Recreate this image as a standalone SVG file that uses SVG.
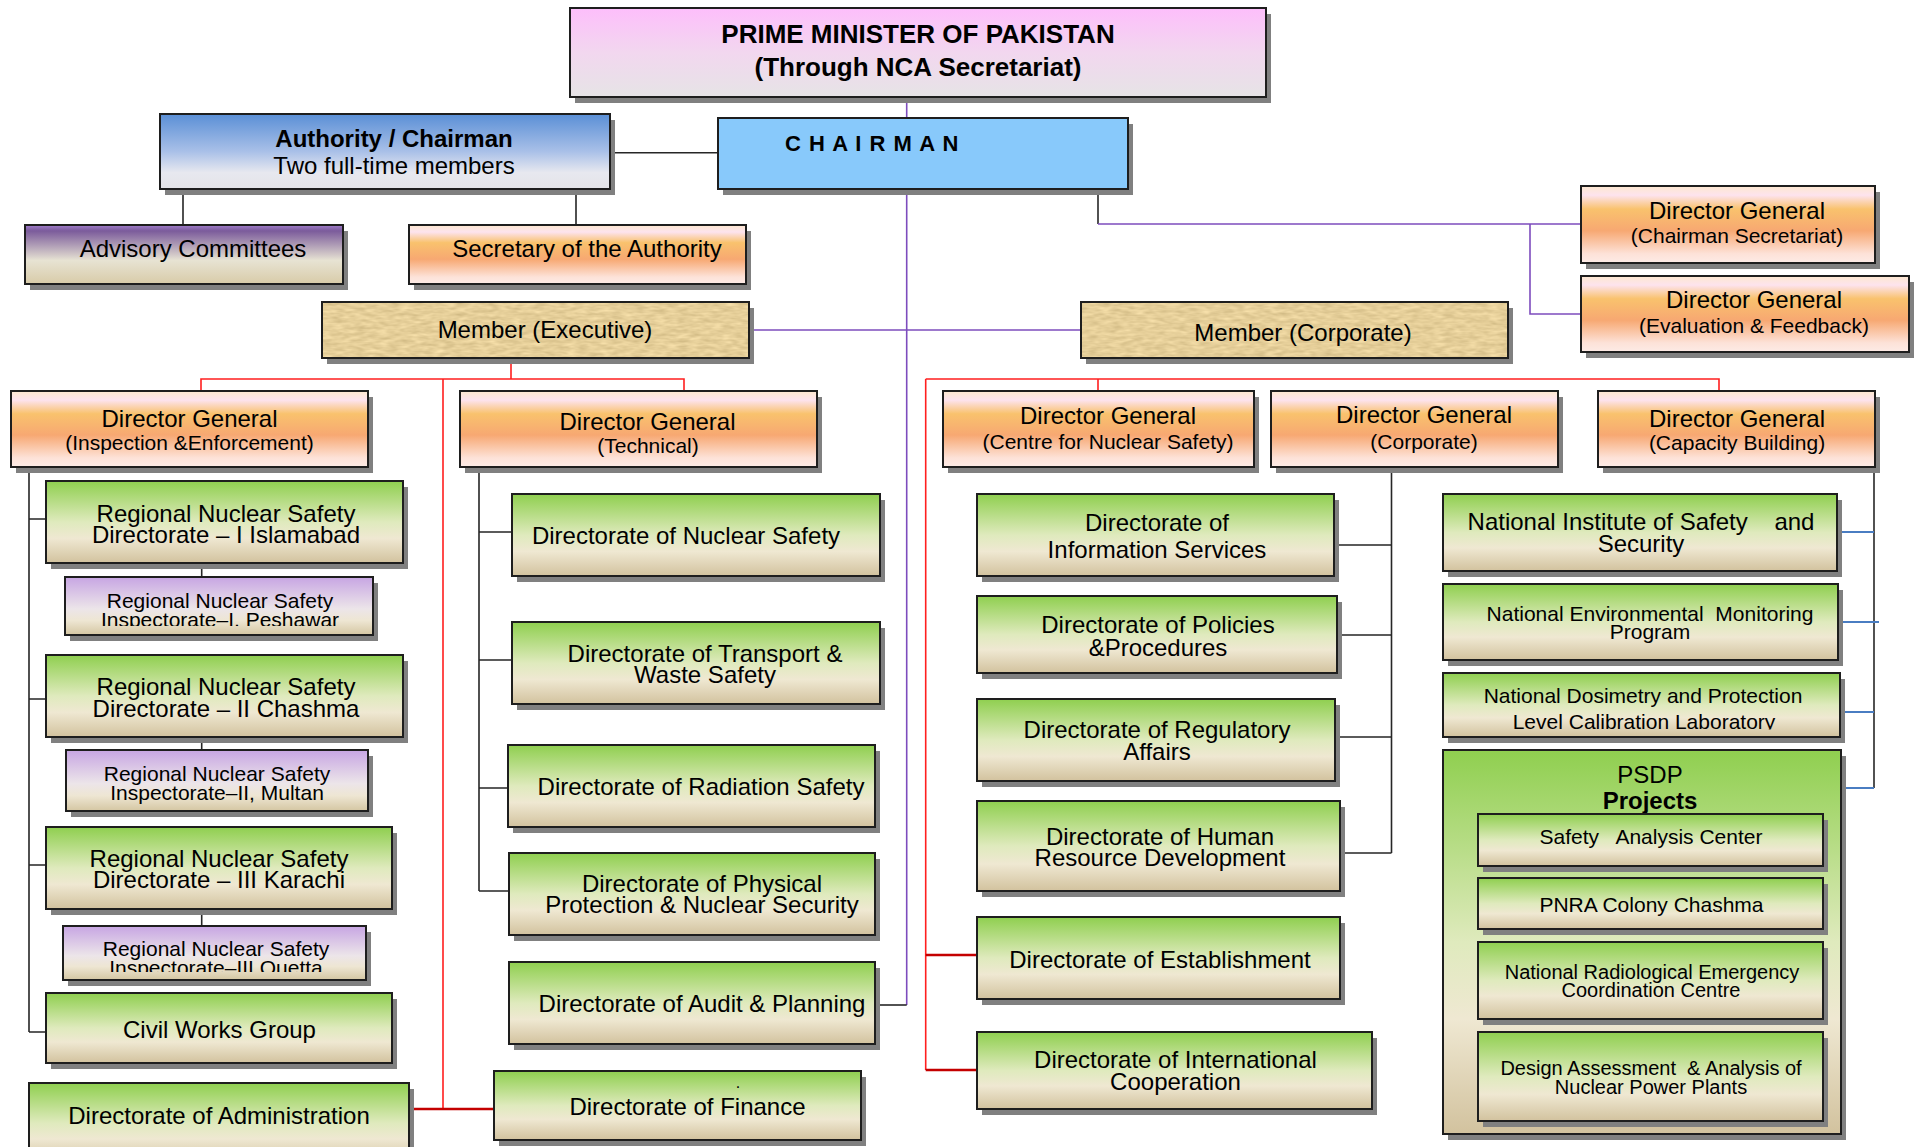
<svg xmlns="http://www.w3.org/2000/svg" width="1922" height="1147" viewBox="0 0 1922 1147">
<defs>
<style>
.bx{stroke:#1e1e1e;stroke-width:2}
.sh{fill:#808080}
.t{font-family:"Liberation Sans",Arial,sans-serif;fill:#000;text-anchor:middle}
.f26{font-size:26px;font-weight:bold}
.f24{font-size:24px}
.f22{font-size:22px}
.f21{font-size:21px}
.f20{font-size:20px}
.b{font-weight:bold}
.ln{fill:none;stroke-width:1.6}
.blk{stroke:#262626}
.pur{stroke:#7d4cbd}
.red{stroke:#ff1f1f}
.dred{stroke:#c40000;stroke-width:2.6}
.blu{stroke:#4a7dc2;stroke-width:2}
.green{fill:url(#gGreen)}
.orange{fill:url(#gOrange)}
.purp{fill:url(#gPurple)}
</style>
<linearGradient id="gGreen" x1="0" y1="0" x2="0" y2="1">
<stop offset="0" stop-color="#8fcf4f"/>
<stop offset="0.5" stop-color="#dfeabd"/>
<stop offset="0.7" stop-color="#efe8d2"/>
<stop offset="1" stop-color="#d2c29e"/>
</linearGradient>
<linearGradient id="gOrange" x1="0" y1="0" x2="0" y2="1">
<stop offset="0" stop-color="#fde8cf"/>
<stop offset="0.12" stop-color="#fde3ee"/>
<stop offset="0.3" stop-color="#f9c26d"/>
<stop offset="0.58" stop-color="#f7a872"/>
<stop offset="0.88" stop-color="#fde2d8"/>
<stop offset="1" stop-color="#fdebe6"/>
</linearGradient>
<linearGradient id="gPurple" x1="0" y1="0" x2="0" y2="1">
<stop offset="0" stop-color="#c7a5e3"/>
<stop offset="0.55" stop-color="#ece5e9"/>
<stop offset="0.75" stop-color="#eee6d3"/>
<stop offset="1" stop-color="#d4c6a2"/>
</linearGradient>
<linearGradient id="gAdv" x1="0" y1="0" x2="0" y2="1">
<stop offset="0" stop-color="#a27fcd"/>
<stop offset="0.1" stop-color="#7b5b9b"/>
<stop offset="0.6" stop-color="#e7e3d3"/>
<stop offset="1" stop-color="#d8cba8"/>
</linearGradient>
<linearGradient id="gAuth" x1="0" y1="0" x2="0" y2="1">
<stop offset="0" stop-color="#5a8fd6"/>
<stop offset="0.5" stop-color="#a9c0e8"/>
<stop offset="0.78" stop-color="#e7e8ef"/>
<stop offset="1" stop-color="#e4e4e8"/>
</linearGradient>
<linearGradient id="gPM" x1="0" y1="0" x2="0" y2="1">
<stop offset="0" stop-color="#fdbefb"/>
<stop offset="0.5" stop-color="#f2d7ef"/>
<stop offset="1" stop-color="#e6e4e6"/>
</linearGradient>
<filter id="parch" x="0" y="0" width="1" height="1" color-interpolation-filters="sRGB">
<feTurbulence type="fractalNoise" baseFrequency="0.09 0.3" numOctaves="2" seed="7" result="n"/>
<feColorMatrix in="n" type="matrix" values="0.2 0 0 0 0.8  0.2 0 0 0 0.71  0.2 0 0 0 0.5  0 0 0 0 1"/>
</filter>
<clipPath id="cPesh"><rect x="60" y="570" width="320" height="56"/></clipPath>
<clipPath id="cQuet"><rect x="60" y="920" width="320" height="52"/></clipPath>
<clipPath id="cLab"><rect x="1440" y="670" width="400" height="59.5"/></clipPath>
</defs>

<rect x="0" y="0" width="1922" height="1147" fill="#ffffff"/>

<g id="connectors">
<path class="ln pur" d="M906.7,97 V118 M906.7,188 V1005"/>
<path class="ln blk" d="M875,1005 H906.7"/>
<path class="ln blk" d="M610,152.7 H718"/>
<path class="ln blk" d="M183,189 V225 M576,189 V225"/>
<path class="ln blk" d="M1098,188 V224"/>
<path class="ln pur" d="M1098,224 H1581 M1530,224 V314 H1581"/>
<path class="ln pur" d="M749,330 H1081"/>
<path class="ln red" d="M511,358 V379 M201,391 V379 H684 V391 M443,379 V1109"/>
<path class="ln dred" d="M408,1109 H494"/>
<path class="ln red" d="M1098,391 V379 M925.7,379 H1719 V391 M925.7,379 V1070"/>
<path class="ln dred" d="M925.7,955 H977 M925.7,1070 H977"/>
<path class="ln blk" d="M29,466 V1032 M29,519 H46 M29,699 H46 M29,865 H46 M29,1032 H46"/>
<path class="ln blk" d="M201.7,563 V577 M201.7,737 V750 M201.7,909 V926"/>
<path class="ln blk" d="M479,466 V891 M479,532 H512 M479,660 H512 M479,788 H508 M479,891 H509"/>
<path class="ln blk" d="M1391.5,466 V853 M1334,545 H1391.5 M1337,635 H1391.5 M1335,737 H1391.5 M1340,853 H1391.5"/>
<path class="ln blk" d="M1874,466 V788"/>
<path class="ln blu" d="M1837,532 H1874 M1838,622 H1879 M1840,712 H1874 M1841,788 H1874"/>
</g>

<g id="pm">
<rect class="sh" x="575" y="14" width="696" height="89"/>
<rect class="bx" x="570" y="8" width="696" height="89" fill="url(#gPM)"/>
<text class="t f26" x="918" y="43">PRIME MINISTER OF PAKISTAN</text>
<text class="t f26" x="918" y="76">(Through NCA Secretariat)</text>
</g>

<g id="chairman">
<rect class="sh" x="723" y="124" width="410" height="71"/>
<rect class="bx" x="718" y="118" width="410" height="71" fill="#88c9fb"/>
<text class="t f22 b" x="785" y="151" style="text-anchor:start;letter-spacing:1px" xml:space="preserve">C H A I R M A N</text>
</g>

<g id="authority">
<rect class="sh" x="165" y="120" width="450" height="75"/>
<rect class="bx" x="160" y="114" width="450" height="75" fill="url(#gAuth)"/>
<text class="t f24 b" x="394" y="147">Authority / Chairman</text>
<text class="t f24" x="394" y="174">Two full-time members</text>
</g>

<g id="advisory">
<rect class="sh" x="30" y="231" width="318" height="59"/>
<rect class="bx" x="25" y="225" width="318" height="59" fill="url(#gAdv)"/>
<text class="t f24" x="193" y="257">Advisory Committees</text>
</g>

<g id="secretary">
<rect class="sh" x="414" y="231" width="337" height="59"/>
<rect class="bx orange" x="409" y="225" width="337" height="59"/>
<text class="t f24" x="587" y="257">Secretary of the Authority</text>
</g>

<g id="member-executive">
<rect class="sh" x="327" y="308" width="427" height="56"/>
<rect x="322" y="302" width="427" height="56" filter="url(#parch)"/>
<rect class="bx" x="322" y="302" width="427" height="56" fill="none"/>
<text class="t f24" x="545" y="338">Member (Executive)</text>
</g>

<g id="member-corporate">
<rect class="sh" x="1086" y="308" width="427" height="56"/>
<rect x="1081" y="302" width="427" height="56" filter="url(#parch)"/>
<rect class="bx" x="1081" y="302" width="427" height="56" fill="none"/>
<text class="t f24" x="1303" y="341">Member (Corporate)</text>
</g>

<g id="dg-chairman-secretariat">
<rect class="sh" x="1586" y="192" width="294" height="77"/>
<rect class="bx orange" x="1581" y="186" width="294" height="77"/>
<text class="t f24" x="1737" y="219">Director General</text>
<text class="t f21" x="1737" y="243">(Chairman Secretariat)</text>
</g>

<g id="dg-evaluation">
<rect class="sh" x="1586" y="282" width="328" height="76"/>
<rect class="bx orange" x="1581" y="276" width="328" height="76"/>
<text class="t f24" x="1754" y="308">Director General</text>
<text class="t f21" x="1754" y="333">(Evaluation &amp; Feedback)</text>
</g>

<g id="dg-inspection">
<rect class="sh" x="16" y="397" width="357" height="76"/>
<rect class="bx orange" x="11" y="391" width="357" height="76"/>
<text class="t f24" x="189.5" y="427">Director General</text>
<text class="t f21" x="189.5" y="450">(Inspection &amp;Enforcement)</text>
</g>

<g id="dg-technical">
<rect class="sh" x="465" y="397" width="357" height="76"/>
<rect class="bx orange" x="460" y="391" width="357" height="76"/>
<text class="t f24" x="647.5" y="430">Director General</text>
<text class="t f21" x="648" y="453">(Technical)</text>
</g>

<g id="dg-centre">
<rect class="sh" x="948" y="397" width="311" height="76"/>
<rect class="bx orange" x="943" y="391" width="311" height="76"/>
<text class="t f24" x="1108" y="424">Director General</text>
<text class="t f21" x="1108" y="449">(Centre for Nuclear Safety)</text>
</g>

<g id="dg-corporate">
<rect class="sh" x="1276" y="397" width="287" height="76"/>
<rect class="bx orange" x="1271" y="391" width="287" height="76"/>
<text class="t f24" x="1424" y="423">Director General</text>
<text class="t f21" x="1424" y="449">(Corporate)</text>
</g>

<g id="dg-capacity">
<rect class="sh" x="1603" y="397" width="277" height="76"/>
<rect class="bx orange" x="1598" y="391" width="277" height="76"/>
<text class="t f24" x="1737" y="427">Director General</text>
<text class="t f21" x="1737" y="450">(Capacity Building)</text>
</g>

<g id="rnsd-1">
<rect class="sh" x="51" y="487" width="357" height="82"/>
<rect class="bx green" x="46" y="481" width="357" height="82"/>
<text class="t f24" x="226" y="522">Regional Nuclear Safety</text>
<text class="t f24" x="226" y="543">Directorate – I Islamabad</text>
</g>

<g id="rnsi-1">
<rect class="sh" x="70" y="583" width="308" height="58"/>
<rect class="bx purp" x="65" y="577" width="308" height="58"/>
<text class="t f21" x="220" y="608">Regional Nuclear Safety</text>
<text class="t f21" x="220" y="627" clip-path="url(#cPesh)">Inspectorate–I, Peshawar</text>
</g>

<g id="rnsd-2">
<rect class="sh" x="51" y="661" width="357" height="82"/>
<rect class="bx green" x="46" y="655" width="357" height="82"/>
<text class="t f24" x="226" y="695">Regional Nuclear Safety</text>
<text class="t f24" x="226" y="717">Directorate – II Chashma</text>
</g>

<g id="rnsi-2">
<rect class="sh" x="71" y="756" width="302" height="61"/>
<rect class="bx purp" x="66" y="750" width="302" height="61"/>
<text class="t f21" x="217" y="781">Regional Nuclear Safety</text>
<text class="t f21" x="217" y="799.5">Inspectorate–II, Multan</text>
</g>

<g id="rnsd-3">
<rect class="sh" x="51" y="833" width="346" height="82"/>
<rect class="bx green" x="46" y="827" width="346" height="82"/>
<text class="t f24" x="219" y="867">Regional Nuclear Safety</text>
<text class="t f24" x="219" y="888">Directorate – III Karachi</text>
</g>

<g id="rnsi-3">
<rect class="sh" x="68" y="932" width="303" height="54"/>
<rect class="bx purp" x="63" y="926" width="303" height="54"/>
<text class="t f21" x="216" y="956">Regional Nuclear Safety</text>
<text class="t f21" x="216" y="974.5" clip-path="url(#cQuet)">Inspectorate–III Quetta</text>
</g>

<g id="civil-works">
<rect class="sh" x="51" y="999" width="346" height="70"/>
<rect class="bx green" x="46" y="993" width="346" height="70"/>
<text class="t f24" x="219.5" y="1038">Civil Works Group</text>
</g>

<g id="administration">
<rect class="sh" x="34" y="1089" width="380" height="80"/>
<rect class="bx" x="29" y="1083" width="380" height="80" fill="url(#gGreen)"/>
<text class="t f24" x="219" y="1124">Directorate of Administration</text>
</g>

<g id="finance">
<rect class="sh" x="499" y="1077" width="367" height="69"/>
<rect class="bx green" x="494" y="1071" width="367" height="69"/>
<text class="t" x="738" y="1088" style="font-size:16px">.</text>
<text class="t f24" x="687.5" y="1115">Directorate of Finance</text>
</g>

<g id="nuclear-safety">
<rect class="sh" x="517" y="500" width="368" height="82"/>
<rect class="bx green" x="512" y="494" width="368" height="82"/>
<text class="t f24" x="686" y="544">Directorate of Nuclear Safety</text>
</g>

<g id="transport-waste">
<rect class="sh" x="517" y="628" width="368" height="82"/>
<rect class="bx green" x="512" y="622" width="368" height="82"/>
<text class="t f24" x="705" y="662">Directorate of Transport &amp;</text>
<text class="t f24" x="705" y="683">Waste Safety</text>
</g>

<g id="radiation-safety">
<rect class="sh" x="513" y="751" width="367" height="82"/>
<rect class="bx green" x="508" y="745" width="367" height="82"/>
<text class="t f24" x="701" y="795">Directorate of Radiation Safety</text>
</g>

<g id="physical-protection">
<rect class="sh" x="514" y="859" width="366" height="82"/>
<rect class="bx green" x="509" y="853" width="366" height="82"/>
<text class="t f24" x="702" y="892">Directorate of Physical</text>
<text class="t f24" x="702" y="913">Protection &amp; Nuclear Security</text>
</g>

<g id="audit-planning">
<rect class="sh" x="514" y="968" width="366" height="82"/>
<rect class="bx green" x="509" y="962" width="366" height="82"/>
<text class="t f24" x="702" y="1012">Directorate of Audit &amp; Planning</text>
</g>

<g id="information-services">
<rect class="sh" x="982" y="500" width="357" height="82"/>
<rect class="bx green" x="977" y="494" width="357" height="82"/>
<text class="t f24" x="1157" y="531">Directorate of</text>
<text class="t f24" x="1157" y="558">Information Services</text>
</g>

<g id="policies">
<rect class="sh" x="982" y="602" width="360" height="77"/>
<rect class="bx green" x="977" y="596" width="360" height="77"/>
<text class="t f24" x="1158" y="633">Directorate of Policies</text>
<text class="t f24" x="1158" y="656">&amp;Procedures</text>
</g>

<g id="regulatory-affairs">
<rect class="sh" x="982" y="705" width="358" height="82"/>
<rect class="bx green" x="977" y="699" width="358" height="82"/>
<text class="t f24" x="1157" y="738">Directorate of Regulatory</text>
<text class="t f24" x="1157" y="760">Affairs</text>
</g>

<g id="human-resource">
<rect class="sh" x="982" y="807" width="363" height="90"/>
<rect class="bx green" x="977" y="801" width="363" height="90"/>
<text class="t f24" x="1160" y="845">Directorate of Human</text>
<text class="t f24" x="1160" y="866">Resource Development</text>
</g>

<g id="establishment">
<rect class="sh" x="982" y="923" width="363" height="82"/>
<rect class="bx green" x="977" y="917" width="363" height="82"/>
<text class="t f24" x="1160" y="968">Directorate of Establishment</text>
</g>

<g id="international-cooperation">
<rect class="sh" x="982" y="1038" width="395" height="77"/>
<rect class="bx green" x="977" y="1032" width="395" height="77"/>
<text class="t f24" x="1175.5" y="1068">Directorate of International</text>
<text class="t f24" x="1175.5" y="1090">Cooperation</text>
</g>

<g id="niss">
<rect class="sh" x="1448" y="500" width="394" height="77"/>
<rect class="bx green" x="1443" y="494" width="394" height="77"/>
<text class="t f24" x="1641" y="530" xml:space="preserve">National Institute of Safety    and</text>
<text class="t f24" x="1641" y="552">Security</text>
</g>

<g id="nemp">
<rect class="sh" x="1448" y="590" width="395" height="76"/>
<rect class="bx green" x="1443" y="584" width="395" height="76"/>
<text class="t f21" x="1650" y="621" xml:space="preserve">National Environmental  Monitoring</text>
<text class="t f21" x="1650" y="639">Program</text>
</g>

<g id="ndplcl">
<rect class="sh" x="1448" y="679" width="397" height="64"/>
<rect class="bx green" x="1443" y="673" width="397" height="64"/>
<text class="t f21" x="1643" y="703">National Dosimetry and Protection</text>
<text class="t f21" x="1644" y="728.5" clip-path="url(#cLab)">Level Calibration Laboratory</text>
</g>

<g id="psdp">
<rect class="sh" x="1448" y="756" width="398" height="384"/>
<rect class="bx green" x="1443" y="750" width="398" height="384"/>
<text class="t f24" x="1650" y="783">PSDP</text>
<text class="t f24 b" x="1650" y="809">Projects</text>
</g>

<g id="safety-analysis-center">
<rect class="sh" x="1483" y="820" width="345" height="52"/>
<rect class="bx green" x="1478" y="814" width="345" height="52"/>
<text class="t f21" x="1651" y="844" xml:space="preserve">Safety   Analysis Center</text>
</g>

<g id="pnra-colony">
<rect class="sh" x="1483" y="884" width="345" height="51"/>
<rect class="bx green" x="1478" y="878" width="345" height="51"/>
<text class="t f21" x="1651.5" y="912">PNRA Colony Chashma</text>
</g>

<g id="nrecc">
<rect class="sh" x="1483" y="948" width="345" height="77"/>
<rect class="bx green" x="1478" y="942" width="345" height="77"/>
<text class="t f20" x="1652" y="979">National Radiological Emergency</text>
<text class="t f20" x="1651" y="997">Coordination Centre</text>
</g>

<g id="design-assessment">
<rect class="sh" x="1483" y="1038" width="345" height="89"/>
<rect class="bx green" x="1478" y="1032" width="345" height="89"/>
<text class="t f20" x="1651" y="1075" xml:space="preserve">Design Assessment  &amp; Analysis of</text>
<text class="t f20" x="1651" y="1094">Nuclear Power Plants</text>
</g>
</svg>
